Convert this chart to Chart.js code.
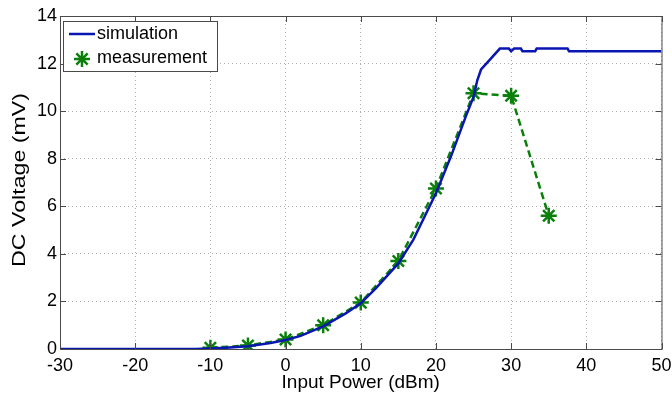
<!DOCTYPE html>
<html>
<head>
<meta charset="utf-8">
<script src="https://cdn.jsdelivr.net/npm/chart.js@4"></script>
<style>
  html, body { margin: 0; padding: 0; background: #fff; }
  #wrap { width: 672px; height: 394px; }
</style>
</head>
<body>
<div id="wrap"><canvas id="grafico" width="672" height="394"></canvas></div>
<script>
// potencia de entrada (dBm) e tensao DC (mV)
const simPotencia = [-30, -20, -12, -10, -8, -5, -2, 0, 2, 5, 8, 10, 12, 15, 17, 20, 22, 24, 25, 25.5, 26, 27, 28.5, 29.7, 30, 30.4, 31.3, 31.5, 33.2, 33.4, 37.5, 37.7, 50];
const simTensao = [0, 0, 0, 0.02, 0.05, 0.12, 0.25, 0.38, 0.55, 0.95, 1.5, 1.92, 2.55, 3.6, 4.6, 6.55, 8.1, 9.8, 10.6, 11.3, 11.75, 12.1, 12.63, 12.63, 12.52, 12.63, 12.63, 12.52, 12.52, 12.63, 12.63, 12.52, 12.52];
const medPotencia = [-10, -5, 0, 5, 10, 15, 20, 25, 30, 35];
const medTensao = [0.05, 0.15, 0.4, 1.0, 1.95, 3.7, 6.75, 10.75, 10.65, 5.6];
const xTicks = [-30, -20, -10, 0, 10, 20, 30, 40, 50];
const yTicks = [0, 2, 4, 6, 8, 10, 12, 14];

const azul = '#0a16b0';
const verde = '#0a800a';
const fonte = '"Liberation Sans", Arial, sans-serif';

const moldura = {
    id: 'moldura',
    afterDraw(chart) {
        const { ctx, chartArea: a } = chart;
        ctx.save();
        ctx.strokeStyle = '#4a4a4a';
        ctx.lineWidth = 1;
        ctx.strokeRect(a.left + 0.5, a.top + 0.5, a.right - a.left, a.bottom - a.top);
        // ticks para dentro
        const xs = chart.scales.x, ys = chart.scales.y;
        ctx.beginPath();
        xTicks.forEach(v => {
            const px = Math.round(xs.getPixelForValue(v)) + 0.5;
            ctx.moveTo(px, a.bottom); ctx.lineTo(px, a.bottom - 6);
            ctx.moveTo(px, a.top); ctx.lineTo(px, a.top + 6);
        });
        yTicks.forEach(v => {
            const py = Math.round(ys.getPixelForValue(v)) + 0.5;
            ctx.moveTo(a.left, py); ctx.lineTo(a.left + 6, py);
            ctx.moveTo(a.right, py); ctx.lineTo(a.right - 6, py);
        });
        ctx.stroke();

        // titulo do eixo y, esticado como no original
        ctx.save();
        ctx.translate(20, 180);
        ctx.rotate(-Math.PI / 2);
        ctx.font = '19px ' + fonte;
        const txt = 'DC Voltage (mV)';
        const w = ctx.measureText(txt).width;
        ctx.scale(174 / w, 1);
        ctx.fillStyle = '#000';
        ctx.textAlign = 'center';
        ctx.textBaseline = 'middle';
        ctx.fillText(txt, 0, 0);
        ctx.restore();

        // legenda
        const lx = a.left + 3, ly = a.top + 5, lw = 154, lh = 50;
        ctx.fillStyle = '#fff';
        ctx.fillRect(lx, ly, lw, lh);
        ctx.strokeStyle = '#4a4a4a';
        ctx.lineWidth = 1;
        ctx.strokeRect(lx + 0.5, ly + 0.5, lw, lh);
        ctx.strokeStyle = azul;
        ctx.lineWidth = 2.5;
        ctx.beginPath();
        ctx.moveTo(lx + 6, ly + 13); ctx.lineTo(lx + 32, ly + 13);
        ctx.stroke();
        ctx.strokeStyle = verde;
        ctx.lineWidth = 2.5;
        ctx.beginPath();
        const r = 8;
        for (let k = 0; k < 4; k++) {
            const ang = k * Math.PI / 4;
            ctx.moveTo(lx + 19 - r * Math.cos(ang), ly + 38 - r * Math.sin(ang));
            ctx.lineTo(lx + 19 + r * Math.cos(ang), ly + 38 + r * Math.sin(ang));
        }
        ctx.stroke();
        ctx.fillStyle = '#000';
        ctx.font = '18px ' + fonte;
        ctx.textBaseline = 'middle';
        ctx.fillText('simulation', lx + 34, ly + 13);
        ctx.fillText('measurement', lx + 34, ly + 37);
        ctx.restore();
    }
};

new Chart(document.getElementById('grafico').getContext('2d'), {
    type: 'line',
    data: {
        datasets: [
            {
                label: 'simulation',
                data: simPotencia.map((x, i) => ({ x, y: simTensao[i] })),
                borderColor: azul,
                borderWidth: 2.5,
                pointRadius: 0,
                tension: 0
            },
            {
                label: 'measurement',
                data: medPotencia.map((x, i) => ({ x, y: medTensao[i] })),
                borderColor: verde,
                backgroundColor: verde,
                borderWidth: 2.5,
                borderDash: [7, 4],
                pointStyle: 'star',
                pointRadius: 8,
                pointBorderWidth: 2.5,
                pointBorderColor: verde,
                tension: 0
            }
        ]
    },
    options: {
        responsive: false,
        animation: false,
        layout: { padding: { top: 16, right: 10, left: 0, bottom: 0 } },
        plugins: { legend: { display: false }, tooltip: { enabled: false } },
        scales: {
            x: {
                type: 'linear', min: -30, max: 50,
                afterBuildTicks: s => { s.ticks = xTicks.map(v => ({ value: v })); },
                afterFit: s => { s.height = 45; s.paddingLeft = 0; s.paddingRight = 0; },
                grid: { color: '#b0b0b0', drawTicks: false },
                border: { display: false, dash: [1, 3] },
                ticks: { color: '#000', font: { family: fonte, size: 18 }, padding: 6, maxRotation: 0 },
                title: { display: true, text: 'Input Power (dBm)', color: '#000', font: { family: fonte, size: 19 }, padding: { top: -2, bottom: 0 } }
            },
            y: {
                type: 'linear', min: 0, max: 14,
                afterBuildTicks: s => { s.ticks = yTicks.map(v => ({ value: v })); },
                afterFit: s => { s.width = 60; s.paddingTop = 0; s.paddingBottom = 0; },
                grid: { color: '#b0b0b0', drawTicks: false },
                border: { display: false, dash: [1, 3] },
                ticks: { color: '#000', font: { family: fonte, size: 18 }, padding: 3 }
            }
        }
    },
    plugins: [moldura]
});
</script>
</body>
</html>
